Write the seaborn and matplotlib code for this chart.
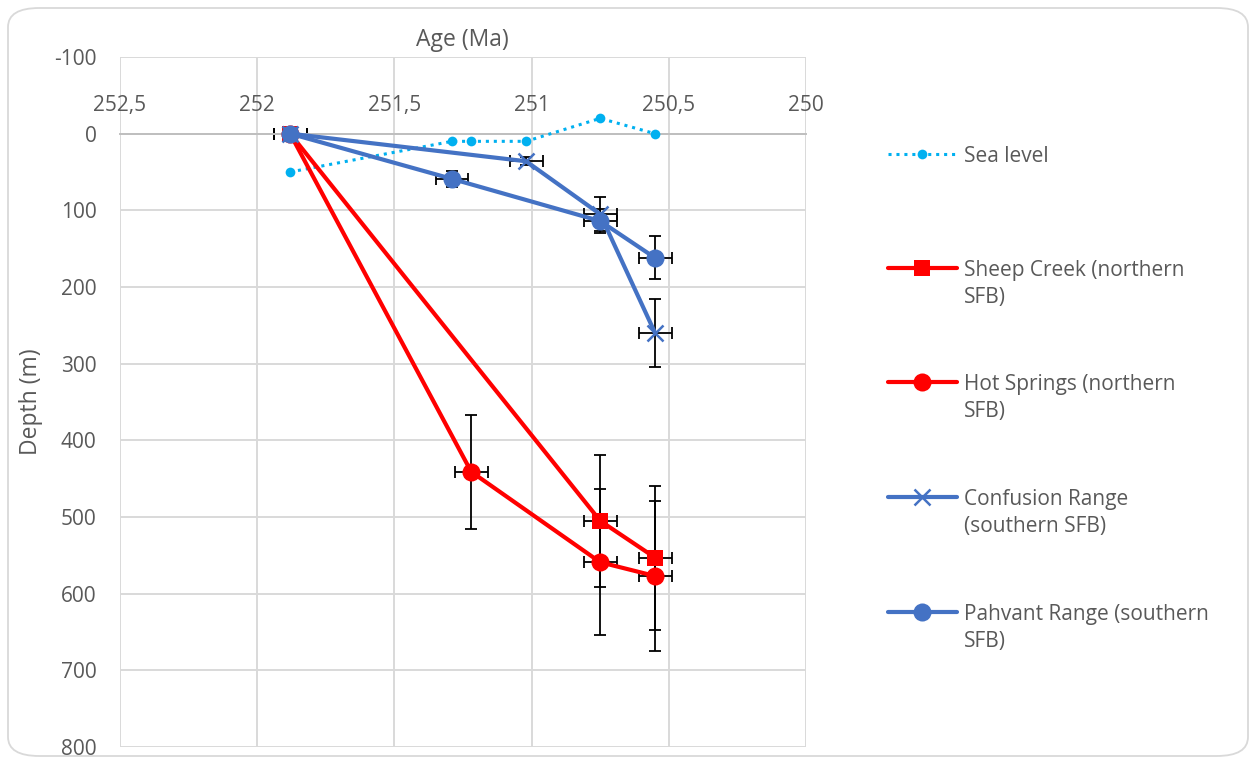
import numpy as np
import pandas as pd
import matplotlib
matplotlib.use("Agg")
import matplotlib.pyplot as plt
from matplotlib.patches import FancyBboxPatch
from matplotlib.lines import Line2D
import seaborn as sns

# ---- data ----
sea_age = [251.88, 251.29, 251.22, 251.02, 250.75, 250.55]
sea_depth = [50, 10, 10, 10, -20, 0]

sheep_age = [251.88, 250.75, 250.55]
sheep_depth = [0, 505, 553]
sheep_err = [0, 86, 94]

hot_age = [251.88, 251.22, 250.75, 250.55]
hot_depth = [0, 441, 559, 577]
hot_err = [0, 74, 95, 98]

conf_age = [251.88, 251.02, 250.75, 250.55]
conf_depth = [0, 36, 105, 260]
conf_err = [0, 5, 22, 44]

pah_age = [251.88, 251.29, 250.75, 250.55]
pah_depth = [0, 59, 114, 162]
pah_err = [0, 10, 16, 28]

age_err = 0.06

x_ticks = [252.5, 252.0, 251.5, 251.0, 250.5, 250.0]
x_labels = ["252,5", "252", "251,5", "251", "250,5", "250"]
y_ticks = [-100, 0, 100, 200, 300, 400, 500, 600, 700, 800]

series_names = ["Sea level", "Sheep Creek (northern\nSFB)", "Hot Springs (northern\nSFB)",
                "Confusion Range\n(southern SFB)", "Pahvant Range (southern\nSFB)"]

TXT = "#595959"
GRID = "#D9D9D9"
RED = "#FF0000"
BLUE = "#4472C4"
CYAN = "#00B0F0"

sns.set_theme(style="white")
plt.rcParams["font.family"] = ["Open Sans", "DejaVu Sans"]
plt.rcParams["axes.unicode_minus"] = False

fig = plt.figure(figsize=(12.55, 7.62), dpi=100)
W, H = 1255, 762
ax = fig.add_axes([120 / W, 15 / H, 686 / W, 690 / H])

# outer rounded frame
fig.patches.append(FancyBboxPatch((8 / W, 6 / H), 1240 / W, 748 / H,
                                  boxstyle="round,pad=0,rounding_size=0.025",
                                  transform=fig.transFigure, facecolor="none",
                                  edgecolor=GRID, linewidth=1.3, zorder=0))

ebkw = dict(fmt="none", ecolor="black", elinewidth=1.3, capsize=4.6, capthick=1.3, zorder=2)

# sea level
sea = pd.DataFrame({"age": sea_age, "depth": sea_depth})
sns.lineplot(data=sea, x="age", y="depth", sort=False, ax=ax, color=CYAN,
             linestyle=(0, (1, 1.6)), linewidth=2.2, marker="o", markersize=7,
             markeredgewidth=0, zorder=3)

styles = [
    (sheep_age, sheep_depth, sheep_err, RED, "s", 12, 0),
    (hot_age, hot_depth, hot_err, RED, "o", 13, 0),
    (conf_age, conf_depth, conf_err, BLUE, "x", 11, 1.8),
    (pah_age, pah_depth, pah_err, BLUE, "o", 13, 0),
]
for i, (a, d, e, c, m, ms, mew) in enumerate(styles):
    ax.errorbar(a, d, xerr=age_err, yerr=e, **ebkw)
    df = pd.DataFrame({"age": a, "depth": d})
    sns.lineplot(data=df, x="age", y="depth", sort=False, ax=ax, color=c,
                 linewidth=3.0, marker=m, markersize=ms, markeredgewidth=mew,
                 markeredgecolor=c, zorder=4 + i)

ax.set_xlim(252.5, 250.0)
ax.set_ylim(800, -100)
ax.set_xticks(x_ticks)
ax.set_xticklabels(x_labels)
ax.set_yticks(y_ticks)
ax.grid(True, color=GRID, linewidth=1.4)
ax.set_axisbelow(True)

for s in ["left", "right", "bottom"]:
    ax.spines[s].set_visible(False)
ax.spines["top"].set_position(("data", 0))
ax.spines["top"].set_color("#BFBFBF")
ax.spines["top"].set_linewidth(1.4)
ax.xaxis.set_ticks_position("top")
ax.tick_params(axis="x", length=0, pad=12.5, labelsize=15, labelcolor=TXT)
ax.tick_params(axis="y", length=0, pad=17, labelsize=15, labelcolor=TXT)
ax.set_xlabel("")
ax.set_ylabel("")

fig.text(462 / W, 1 - 40 / H, "Age (Ma)", ha="center", va="center", fontsize=16.5, color=TXT)
fig.text(31 / W, 1 - 402 / H, "Depth (m)", ha="center", va="center", rotation=90,
         fontsize=16.5, color=TXT)

# legend drawn in pixel space
lax = fig.add_axes([0, 0, 1, 1])
lax.set_xlim(0, W)
lax.set_ylim(H, 0)
lax.axis("off")
leg_y = [154, 268, 382, 497, 612]
leg_style = [
    (CYAN, (0, (1, 1.6)), 2.2, "o", 7, 0),
    (RED, "-", 3.0, "s", 12, 0),
    (RED, "-", 3.0, "o", 13, 0),
    (BLUE, "-", 3.0, "x", 11, 1.8),
    (BLUE, "-", 3.0, "o", 13, 0),
]
for y, name, (c, ls, lw, m, ms, mew) in zip(leg_y, series_names, leg_style):
    lax.add_line(Line2D([888, 922, 957], [y, y, y], color=c, linestyle=ls, linewidth=lw,
                        marker=m, markersize=ms, markeredgewidth=mew, markeredgecolor=c,
                        markevery=[1]))
    lax.text(964, y - 8, name, ha="left", va="top", fontsize=15, color=TXT,
             linespacing=1.4)

fig.savefig("out.png", dpi=100)
